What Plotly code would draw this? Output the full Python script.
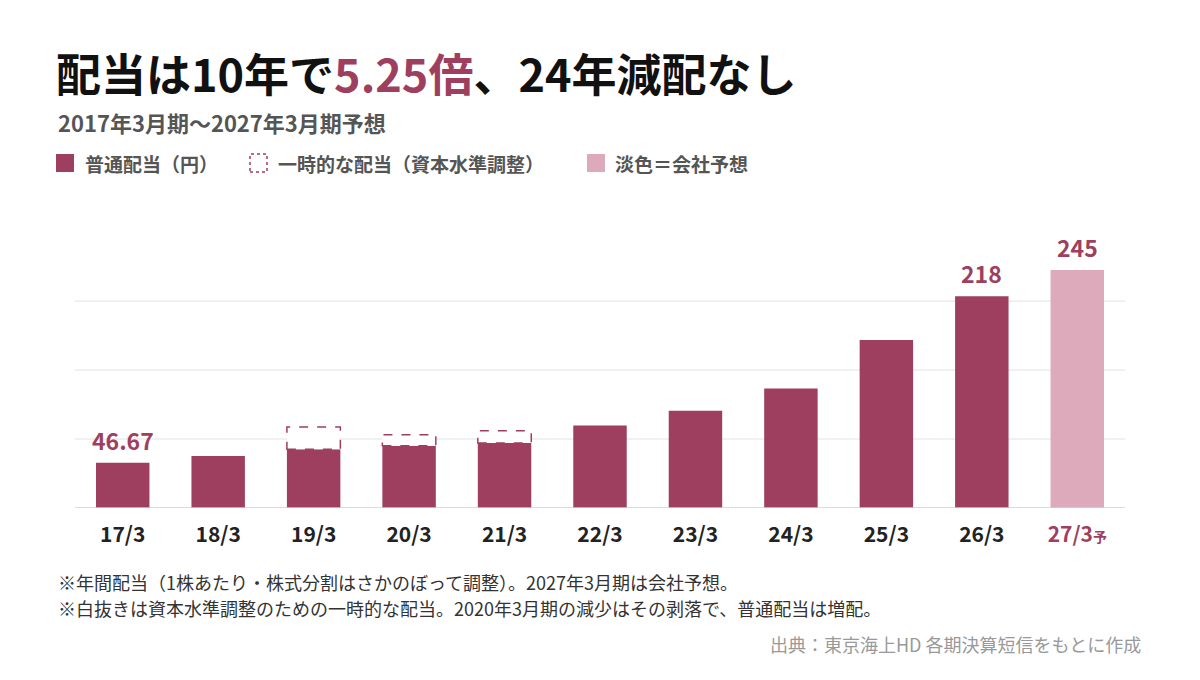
import plotly.graph_objects as go

periods = ["17/3", "18/3", "19/3", "20/3", "21/3", "22/3", "23/3", "24/3", "25/3", "26/3", "27/3"]
regular = [46.67, 53.5, 60.5, 64, 67, 85, 100, 123, 173, 218, 245]
temp_total = [None, None, 83.5, 75.5, 79.5, None, None, None, None, None, None]
forecast = [False] * 10 + [True]
labeled = {0: "46.67", 9: "218", 10: "245"}
grid_vals = [71, 142, 213]

DARK = "#9e3f60"
LIGHT = "#dcaabb"
FONT = "Noto Sans CJK JP"
BW = 0.56

tick_text = [f"<b>{p}</b>" for p in periods[:-1]] + [
    f"<b><span style='color:{DARK}'>27/3<span style='font-size:14px'>予</span></span></b>"]

fig = go.Figure()
fig.add_trace(go.Bar(
    x=list(range(len(periods))), y=regular, width=BW,
    marker=dict(color=[LIGHT if f else DARK for f in forecast], line_width=0),
    hoverinfo="skip",
))

shapes = []
for i, (r, t) in enumerate(zip(regular, temp_total)):
    if t is None:
        continue
    shapes.append(dict(type="rect", xref="x", yref="y", x0=i - BW / 2, x1=i + BW / 2,
                       y0=r, y1=t, fillcolor="white",
                       line=dict(color=DARK, width=1.5, dash="dash"), layer="above"))
for g in grid_vals:
    shapes.append(dict(type="line", xref="paper", yref="y", x0=0, x1=1, y0=g, y1=g,
                       line=dict(color="#e2e2e2", width=1), layer="below"))
shapes.append(dict(type="line", xref="paper", yref="y", x0=0, x1=1, y0=0, y1=0,
                   line=dict(color="#cfcfcf", width=1.5)))

annotations = []
for i, txt in labeled.items():
    annotations.append(dict(x=i, y=regular[i], xref="x", yref="y", text=f"<b>{txt}</b>",
                            showarrow=False, yanchor="bottom", yshift=4,
                            font=dict(size=23, color=DARK, family=FONT)))

def paper_text(x, y, text, size, color, xanchor="left"):
    annotations.append(dict(x=x, y=y, xref="paper", yref="paper", text=text,
                            showarrow=False, xanchor=xanchor, yanchor="middle",
                            font=dict(size=size, color=color, family=FONT)))

# screenshot coords: plot domain x 75..1125 px, y 508..236 px
def px(xp):
    return (xp - 75) / 1050
def py(yp):
    return (508 - yp) / 272

paper_text(px(54), py(73), f"<b>配当は10年で<span style='color:{DARK}'>5.25倍</span>、24年減配なし</b>", 45, "#111")
paper_text(px(56), py(122), "<b>2017年3月期〜2027年3月期予想</b>", 22, "#555")

# legend
shapes.append(dict(type="rect", xref="paper", yref="paper", x0=px(56), x1=px(74),
                   y0=py(172), y1=py(154), fillcolor=DARK, line_width=0))
paper_text(px(83), py(163), "<b>普通配当（円）</b>", 19, "#555")
shapes.append(dict(type="rect", xref="paper", yref="paper", x0=px(250), x1=px(267),
                   y0=py(172), y1=py(154), fillcolor="white",
                   line=dict(color=DARK, width=1.5, dash="dot")))
paper_text(px(276), py(163), "<b>一時的な配当（資本水準調整）</b>", 19, "#555")
shapes.append(dict(type="rect", xref="paper", yref="paper", x0=px(587), x1=px(605),
                   y0=py(172), y1=py(154), fillcolor=LIGHT, line_width=0))
paper_text(px(613), py(163), "<b>淡色＝会社予想</b>", 19, "#555")

paper_text(px(56), py(582), "※年間配当（1株あたり・株式分割はさかのぼって調整）。2027年3月期は会社予想。", 18, "#333")
paper_text(px(56), py(608), "※白抜きは資本水準調整のための一時的な配当。2020年3月期の減少はその剥落で、普通配当は増配。", 18, "#333")
paper_text(px(1143), py(644), "出典：東京海上HD 各期決算短信をもとに作成", 18, "#999", xanchor="right")

fig.update_layout(
    width=1200, height=680,
    margin=dict(l=67, r=83, t=228, b=180),
    plot_bgcolor="white", paper_bgcolor="white",
    showlegend=False,
    font=dict(family=FONT),
    xaxis=dict(tickmode="array", tickvals=list(range(len(periods))), ticktext=tick_text,
               range=[-0.5, len(periods) - 0.5], showgrid=False, zeroline=False,
               tickfont=dict(size=21, color="#222", family=FONT), ticks="",
               ticklabelstandoff=12),
    yaxis=dict(range=[0, 280], visible=False, showgrid=False, zeroline=False),
    shapes=shapes, annotations=annotations,
)

fig.write_html("out.html")
